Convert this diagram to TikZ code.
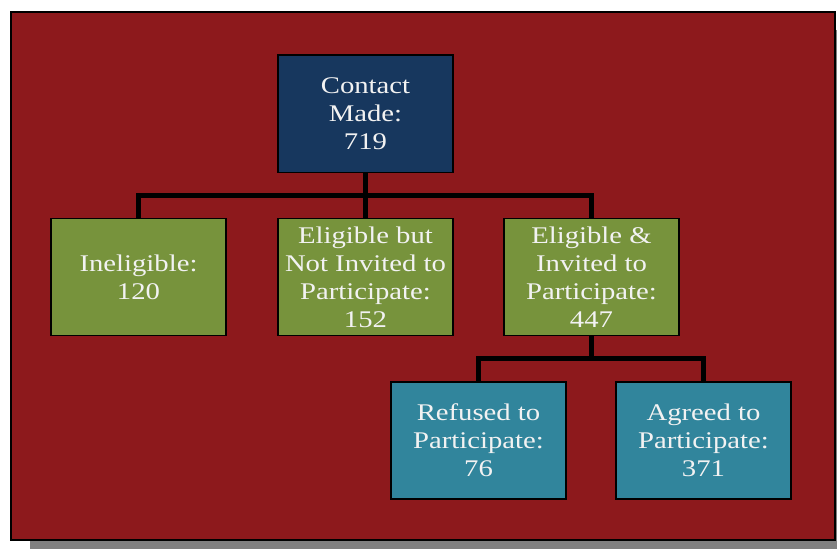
\documentclass[tikz,border=0pt]{standalone}
\usepackage{fontspec}
\setmainfont{Liberation Serif}[FakeStretch=1.2]
\usetikzlibrary{positioning}

\definecolor{bgred}{HTML}{8D191C}
\definecolor{topblue}{HTML}{17375E}
\definecolor{midgreen}{HTML}{77933C}
\definecolor{lowteal}{HTML}{31859C}
\definecolor{shadowgray}{HTML}{808080}

\begin{document}
\begin{tikzpicture}[x=1bp, y=-1bp,
    box/.style={draw=black, line width=2pt, minimum width=175bp, minimum height=117bp,
      inner sep=0pt, outer sep=0pt, align=center, text=white!95!black, font=\fontsize{24}{28}\selectfont},
    link/.style={draw=black, line width=4.5bp, line join=miter}
  ]

\useasboundingbox (0,0) rectangle (837,549);
\clip (0,0) rectangle (837,549);

% Background panel with its shadow
\fill[shadowgray] (30,30) rectangle (860,570);
\draw[fill=bgred, line width=2.5bp] (11,12) rectangle (835,540);

% Top box
\node[box, fill=topblue] (contact) at (365.5,114) {Contact\\Made:\\719};

% Second row
\node[box, fill=midgreen, below=46bp of contact] (notinv) {Eligible but\\Not Invited to\\Participate:\\152};
\node[box, fill=midgreen, left=52bp of notinv] (inelig) {Ineligible:\\120};
\node[box, fill=midgreen, right=51bp of notinv] (invited) {Eligible \&\\Invited to\\Participate:\\447};

% Third row
\node[box, fill=lowteal, below=46bp of invited, xshift=-113bp] (refused) {Refused to\\Participate:\\76};
\node[box, fill=lowteal, right=50bp of refused] (agreed) {Agreed to\\Participate:\\371};

% Connectors
\draw[link] (contact.south) -- (notinv.north);
\draw[link] (inelig.north) -- ++(0,-23) -| (invited.north);
\draw[link] (invited.south) -- ++(0,23);
\draw[link] (refused.north) -- ++(0,-23) -| (agreed.north);

\end{tikzpicture}
\end{document}
